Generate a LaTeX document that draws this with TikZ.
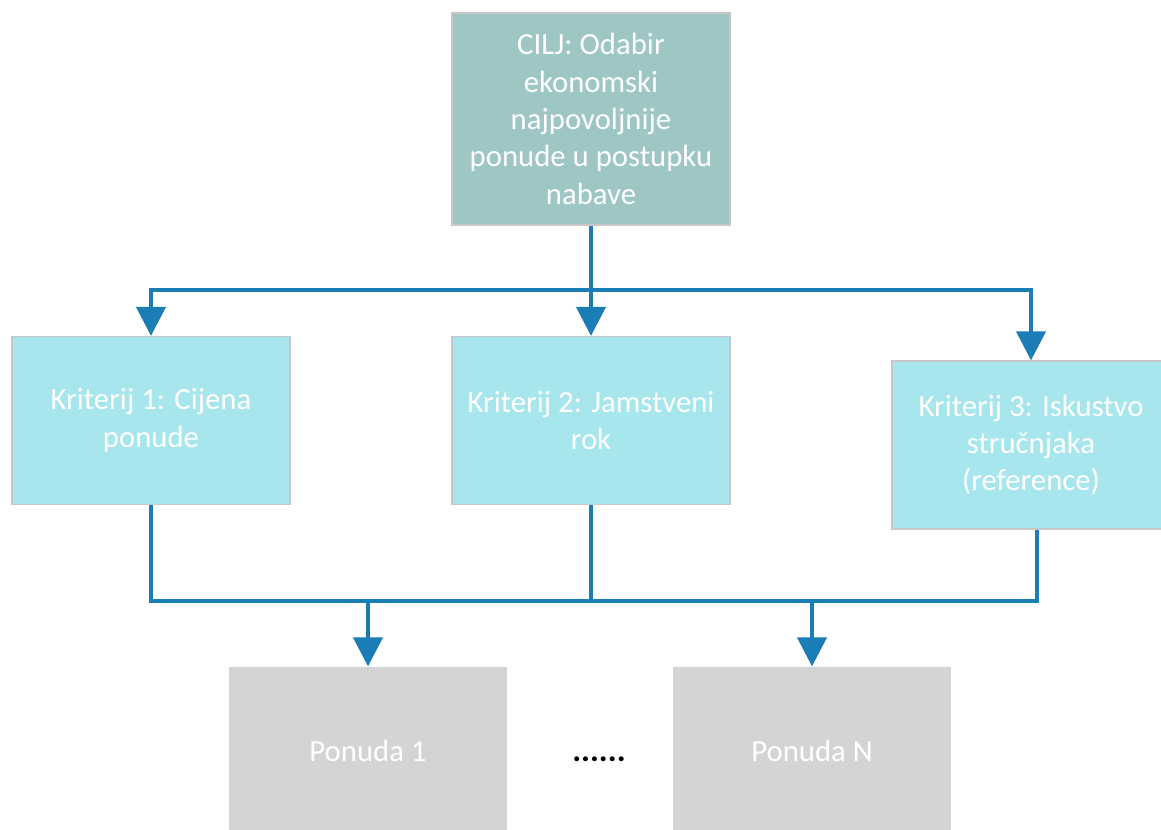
\documentclass[tikz,border=0pt]{standalone}
\usepackage{fontspec}
\setmainfont{Carlito}
\usetikzlibrary{arrows.meta,calc}
\definecolor{linija}{HTML}{1A7DB5}
\definecolor{ciljboja}{HTML}{9DC6C4}
\definecolor{kritboja}{HTML}{A6E6EC}
\definecolor{ponboja}{HTML}{D4D4D4}
\begin{document}
\begin{tikzpicture}[x=0.02cm,y=-0.02cm,
	kutija/.style={draw=black!22,line width=0.7pt,minimum width=5.56cm,minimum height=3.36cm,inner sep=0pt,align=center,text=white,font=\fontsize{17.5}{21.3}\selectfont},
	cilj/.style={kutija,fill=ciljboja,minimum height=4.24cm},
	krit/.style={kutija,fill=kritboja},
	ponuda/.style={kutija,fill=ponboja,draw=none},
	veza/.style={draw=linija,line width=2.4pt},
	strelica/.style={veza,-{Triangle[length=0.58cm,width=0.58cm]}}]
\clip(0,0)rectangle(1161,830);
\node[cilj](cilj) at (591,119){CILJ: Odabir\\ekonomski\\najpovoljnije\\ponude u postupku\\nabave};
\node[krit](k1) at (151,420.5){Kriterij 1: Cijena\\ponude};
\node[krit](k2) at (591,420.5){Kriterij 2: Jamstveni\\rok};
\node[krit](k3) at (1031,445){Kriterij 3: Iskustvo\\stručnjaka\\(reference)};
\node[ponuda](p1) at (368,751){Ponuda 1};
\node[ponuda](pn) at (812,751){Ponuda N};
\node[font=\fontsize{19}{22}\selectfont\bfseries](tocke) at (599,759){......};
\coordinate(g) at (591,290);
\coordinate(d) at (591,601);
% od cilja prema kriterijima
\draw[strelica](cilj.south)--(k2.north);
\draw[strelica](g)-|(k1.north);
\draw[strelica](g)-|(k3.north);
% od kriterija prema ponudama
\draw[veza](k1.south)|-(d)-|([xshift=0.12cm]k3.south);
\draw[veza](k2.south)--(d);
\draw[strelica](p1.north|-d)--(p1.north);
\draw[strelica](pn.north|-d)--(pn.north);
\end{tikzpicture}
\end{document}
